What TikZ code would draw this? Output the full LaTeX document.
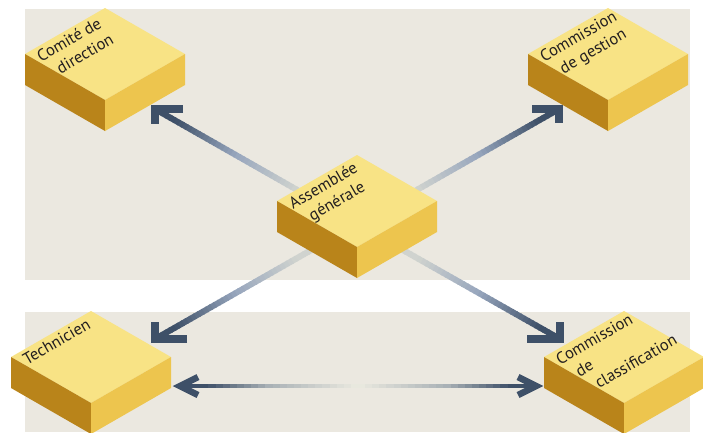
\documentclass[tikz,border=0pt]{standalone}
\usepackage{fontspec}
\setmainfont{PT Sans}
\usetikzlibrary{calc}

\definecolor{band}{HTML}{EBE8E0}
\definecolor{boxtop}{HTML}{F8E385}
\definecolor{boxleft}{HTML}{B9841A}
\definecolor{boxright}{HTML}{EDC54E}
\definecolor{boxtext}{HTML}{231F20}
\definecolor{arrowdark}{HTML}{3E5068}
\definecolor{arrowmid}{HTML}{97A6BD}
\definecolor{arrowlight}{HTML}{D0D3CF}
\definecolor{hmid}{HTML}{A9B1B6}
\definecolor{hlight}{HTML}{EBEAE0}

\tikzset{
  topface/.style={fill=boxtop},
  leftface/.style={fill=boxleft},
  rightface/.style={fill=boxright},
  boxlabel/.style={rotate=30, anchor=north west, align=left, inner sep=0pt,
    text=boxtext, font=\fontsize{16.5}{20}\selectfont},
  shaft/.style={line width=6pt, line cap=butt},
  hshaft/.style={line width=4.5pt, line cap=butt},
  chevron/.style={draw=arrowdark, line width=7.5pt, line join=miter, line cap=butt},
  hchevron/.style={draw=arrowdark, line width=6.5pt, line join=miter, line cap=butt},
}

\begin{document}
\begin{tikzpicture}[x=1pt, y=-1pt]
  \useasboundingbox (0,0) rectangle (703,432);
  % the two bands
  \fill[band] (25,9) rectangle (690,280);
  \fill[band] (25,312) rectangle (690,432);

  % box centres (middle of the top face)
  \coordinate (comite) at (105,54);
  \coordinate (gestion) at (608,54);
  \coordinate (assemblee) at (357,201);
  \coordinate (technicien) at (91,357);
  \coordinate (classif) at (624,357);

  % outer boxes
  \foreach \bx in {comite, gestion, technicien, classif}{
    \fill[topface] ($(\bx)+(0,-46)$) -- ($(\bx)+(80,0)$) -- ($(\bx)+(0,46)$) -- ($(\bx)+(-80,0)$) -- cycle;
    \fill[leftface] ($(\bx)+(-80,0)$) -- ($(\bx)+(0,46)$) -- ($(\bx)+(0,77)$) -- ($(\bx)+(-80,31)$) -- cycle;
    \fill[rightface] ($(\bx)+(0,46)$) -- ($(\bx)+(80,0)$) -- ($(\bx)+(80,31)$) -- ($(\bx)+(0,77)$) -- cycle;
  }

  % arrow ends
  \coordinate (hub) at (357,224);
  \coordinate (tipUL) at (155,109);
  \coordinate (tipUR) at (559,109);
  \coordinate (tipLL) at (155,339);
  \coordinate (tipLR) at (560,339);
  \coordinate (tipHL) at (180,386);
  \coordinate (tipHR) at (536,386);

  % diagonal shafts, light at the hub, dark at the head
  \foreach \tip in {tipUL, tipUR, tipLL, tipLR}{
    \foreach \i in {0,...,49}{
      \pgfmathsetmacro\ta{\i/50}
      \pgfmathsetmacro\tb{(\i+1.3)/50}
      \pgfmathsetmacro\tm{(\i+0.5)/50}
      \pgfmathsetmacro\qa{min(max((\tm-0.3)/0.3,0),1)*100}
      \pgfmathsetmacro\qb{min(max((\tm-0.6)/0.3,0),1)*100}
      \draw[shaft, draw=arrowdark!\qb!arrowmid!\qa!arrowlight] ($(hub)!\ta!(\tip)$) -- ($(hub)!{min(\tb,1)}!(\tip)$);
    }
  }
  \draw[chevron] (183,109) -- (tipUL) -- (155,124);
  \draw[chevron] (532,109) -- (tipUR) -- (559,123);
  \draw[chevron] (187,339) -- (tipLL) -- (155,322);
  \draw[chevron] (527,339) -- (tipLR) -- (560,322);

  % double arrow, dark at both ends
  \foreach \i in {0,...,49}{
    \pgfmathsetmacro\ta{\i/50}
    \pgfmathsetmacro\tb{min((\i+1.3)/50,1)}
    \pgfmathsetmacro\dm{abs((\i+0.5)/50-0.5)*2}
    \pgfmathsetmacro\qa{min(\dm/0.5,1)*100}
    \pgfmathsetmacro\qb{min(max((\dm-0.5)/0.35,0),1)*100}
    \draw[hshaft, draw=arrowdark!\qb!hmid!\qa!hlight] ($(tipHL)!\ta!(tipHR)$) -- ($(tipHL)!\tb!(tipHR)$);
  }
  \draw[hchevron] (198,377) -- (tipHL) -- (198,395);
  \draw[hchevron] (518,377) -- (tipHR) -- (518,395);

  % central box on top of the shafts
  \fill[topface] ($(assemblee)+(0,-46)$) -- ($(assemblee)+(80,0)$) -- ($(assemblee)+(0,46)$) -- ($(assemblee)+(-80,0)$) -- cycle;
  \fill[leftface] ($(assemblee)+(-80,0)$) -- ($(assemblee)+(0,46)$) -- ($(assemblee)+(0,77)$) -- ($(assemblee)+(-80,31)$) -- cycle;
  \fill[rightface] ($(assemblee)+(0,46)$) -- ($(assemblee)+(80,0)$) -- ($(assemblee)+(80,31)$) -- ($(assemblee)+(0,77)$) -- cycle;

  % labels
  \node[boxlabel] (comiteText) at ($(comite)+(-70,-2)$) {Comité de\\\hspace*{11pt}direction};
  \node[boxlabel] (gestionText) at ($(gestion)+(-70,-2)$) {Commission\\\hspace*{11pt}de gestion};
  \node[boxlabel] (assembleeText) at ($(assemblee)+(-70,-2)$) {Assemblée\\\hspace*{11pt}générale};
  \node[boxlabel] (technicienText) at ($(technicien)+(-70,-2)$) {Technicien};
  \node[boxlabel] (classifText) at ($(classif)+(-70,-2)$) {Commission\\\hspace*{11pt}de\\\hspace*{22pt}classification};
\end{tikzpicture}
\end{document}
